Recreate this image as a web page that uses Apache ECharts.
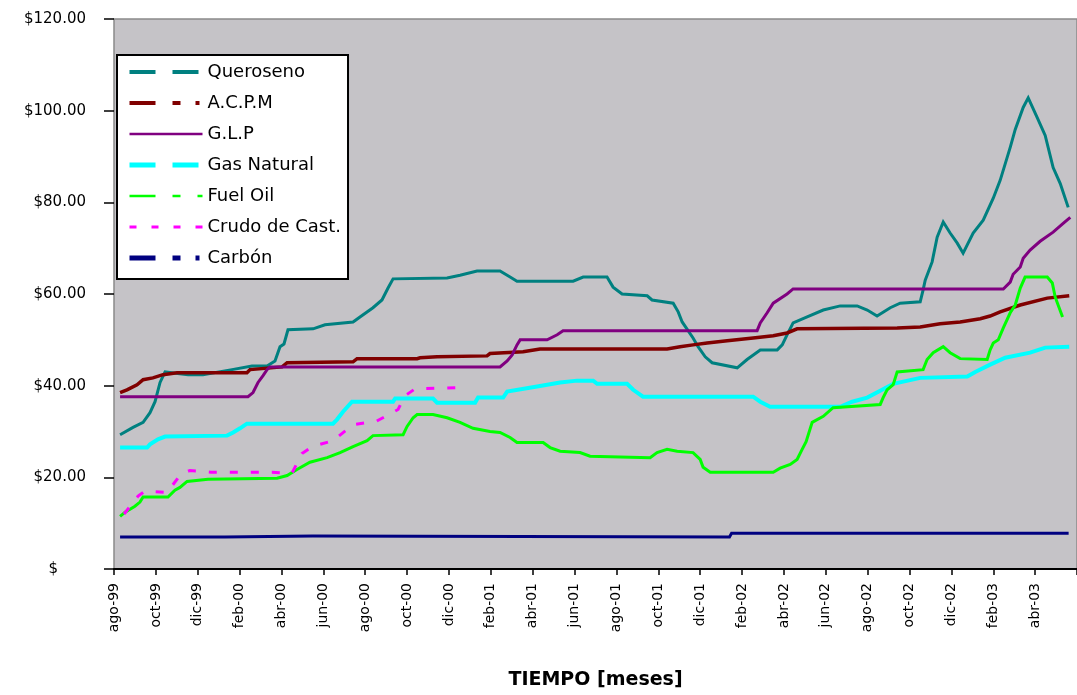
<!DOCTYPE html>
<html>
<head>
<meta charset="utf-8">
<script src="https://cdn.jsdelivr.net/npm/echarts@6/dist/echarts.min.js"></script>
<style>
  html, body { margin: 0; padding: 0; background: #fff; }
  #chart { width: 1077px; height: 695px; }
</style>
</head>
<body>
<div id="chart"></div>
<script>
// Precios de combustibles, pares [mes desde ago-99, precio US$]
const monthLabels = ['ago-99','oct-99','dic-99','feb-00','abr-00','jun-00','ago-00','oct-00','dic-00',
  'feb-01','abr-01','jun-01','ago-01','oct-01','dic-01','feb-02','abr-02','jun-02','ago-02','oct-02',
  'dic-02','feb-03','abr-03'];
const yTickLabels = ['$', '$20.00', '$40.00', '$60.00', '$80.00', '$100.00', '$120.00'];
const seriesNames = ['Queroseno', 'A.C.P.M', 'G.L.P', 'Gas Natural', 'Fuel Oil', 'Crudo de Cast.', 'Carbón'];

const queroseno = [[0.29,29.3],[0.91,30.9],[1.39,32.0],[1.72,34.1],[1.96,36.5],[2.2,40.7],[2.44,43.0],
  [3.54,42.4],[4.25,42.4],[5.64,43.5],[6.59,44.3],[7.31,44.3],[7.69,45.4],[7.93,48.5],[8.12,49.1],
  [8.31,52.2],[9.51,52.4],[10.08,53.3],[11.42,53.9],[11.75,55.0],[12.37,57.0],[12.8,58.7],[13.09,61.3],
  [13.33,63.3],[15.91,63.5],[16.53,64.1],[17.34,65.0],[18.44,65.0],[18.92,63.7],[19.25,62.8],[21.93,62.8],
  [22.41,63.7],[23.55,63.7],[23.84,61.5],[24.27,60.0],[25.47,59.6],[25.7,58.7],[26.71,58.0],[26.95,56.1],
  [27.14,53.9],[27.66,50.4],[27.9,48.5],[28.24,46.3],[28.57,45.0],[29.77,43.9],[30.24,45.7],[30.87,47.8],
  [31.68,47.8],[31.92,48.9],[32.15,51.1],[32.44,53.7],[33.11,55.0],[33.88,56.5],[34.69,57.4],[35.5,57.4],
  [35.98,56.5],[36.45,55.2],[37.08,57.0],[37.55,58.0],[38.51,58.3],[38.65,60.9],[38.75,63.0],[39.08,67.0],
  [39.32,72.4],[39.61,75.7],[39.94,73.3],[40.28,71.1],[40.56,68.9],[41.04,73.3],[41.52,76.1],[42.0,80.9],
  [42.33,84.8],[42.81,92.0],[43.05,95.9],[43.43,100.7],[43.67,102.8],[44.1,98.5],[44.48,94.6],[44.86,87.6],
  [45.2,84.1],[45.58,78.9]];

const acpm = [[0.29,38.5],[0.62,39.1],[1.1,40.2],[1.39,41.3],[1.86,41.7],[2.34,42.4],[3.01,42.8],[6.35,42.8],
  [6.5,43.5],[8.03,44.1],[8.27,45.0],[11.42,45.2],[11.61,45.9],[14.48,45.9],[14.62,46.1],[15.43,46.3],
  [17.82,46.5],[17.96,47.0],[19.54,47.4],[20.35,48.0],[26.42,48.0],[27.04,48.5],[27.66,48.9],[28.33,49.3],
  [29.29,49.8],[30.53,50.4],[31.49,50.9],[32.15,51.5],[32.63,52.4],[37.41,52.6],[38.51,52.8],[39.46,53.5],
  [40.42,53.9],[41.38,54.6],[41.85,55.2],[42.33,56.1],[43.29,57.6],[44.58,59.1],[45.63,59.6]];

const glp = [[0.29,37.6],[6.4,37.6],[6.64,38.5],[6.88,40.7],[7.12,42.2],[7.31,43.5],[7.45,44.1],[18.44,44.1],
  [18.78,45.4],[19.02,46.7],[19.25,48.9],[19.4,50.0],[20.69,50.0],[21.17,51.1],[21.45,52.0],[30.72,52.0],
  [30.87,53.7],[31.2,55.9],[31.49,58.0],[32.15,60.0],[32.44,61.1],[42.48,61.1],[42.81,62.6],[42.95,64.3],
  [43.29,65.9],[43.43,67.8],[43.76,69.6],[44.24,71.5],[44.86,73.5],[45.34,75.4],[45.68,76.7]];

const gasNatural = [[0.29,26.5],[1.58,26.5],[1.72,27.2],[2.1,28.3],[2.44,28.9],[5.4,29.1],[5.69,29.8],
  [6.02,30.7],[6.35,31.7],[10.46,31.7],[10.65,32.6],[10.94,34.3],[11.37,36.5],[13.33,36.5],[13.43,37.2],
  [15.24,37.2],[15.43,36.3],[17.25,36.3],[17.39,37.4],[18.59,37.4],[18.78,38.7],[20.21,39.8],[21.31,40.7],
  [22.12,41.1],[22.89,41.1],[23.08,40.4],[24.51,40.4],[24.8,39.1],[25.27,37.6],[30.53,37.6],[30.87,36.5],
  [31.34,35.4],[34.69,35.4],[35.26,36.5],[35.98,37.4],[36.6,38.9],[37.22,40.4],[38.51,41.7],[40.76,42.0],
  [41.14,43.0],[41.85,44.6],[42.57,46.1],[43.76,47.2],[44.48,48.3],[45.63,48.5]];

const fuelOil = [[0.29,11.5],[0.53,12.4],[1.0,13.7],[1.24,14.6],[1.39,15.7],[2.58,15.7],[2.91,17.2],
  [3.15,17.8],[3.49,19.1],[4.49,19.6],[7.79,19.8],[8.27,20.4],[8.74,21.7],[9.36,23.3],[10.18,24.3],
  [10.8,25.4],[11.42,26.7],[12.09,28.0],[12.37,29.1],[13.81,29.3],[14.0,31.1],[14.29,33.0],[14.48,33.7],
  [15.24,33.7],[15.91,33.0],[16.53,32.0],[17.15,30.7],[17.96,30.0],[18.44,29.8],[18.92,28.7],[19.25,27.6],
  [20.5,27.6],[20.83,26.5],[21.31,25.7],[22.26,25.4],[22.74,24.6],[25.61,24.3],[25.94,25.4],[26.42,26.1],
  [26.9,25.7],[27.66,25.4],[28.0,23.9],[28.14,22.2],[28.48,21.1],[31.49,21.1],[31.82,22.0],[32.3,22.8],
  [32.63,23.9],[32.87,26.1],[33.06,27.8],[33.35,32.0],[33.88,33.3],[34.35,35.2],[36.6,35.9],[36.74,37.4],
  [36.93,39.1],[37.22,40.2],[37.41,43.0],[38.65,43.5],[38.84,45.7],[39.13,47.2],[39.61,48.5],[39.94,47.2],
  [40.42,45.9],[41.71,45.7],[41.85,47.8],[42.0,49.3],[42.24,50.0],[42.48,52.6],[42.81,55.9],[43.05,57.6],
  [43.29,61.3],[43.52,63.7],[44.58,63.7],[44.82,62.4],[44.96,59.3],[45.31,55.0]];

const crudoCastilla = [[0.48,12.0],[1.15,15.9],[1.48,17.0],[2.53,16.7],[3.2,20.7],[3.63,21.5],[4.63,21.1],
  [7.55,21.1],[8.5,20.9],[8.98,25.2],[9.46,26.7],[10.46,28.0],[11.42,31.5],[12.52,32.2],[13.57,34.8],
  [13.9,37.8],[14.38,39.3],[16.53,39.6]];

const carbon = [[0.29,7.0],[5.3,7.0],[5.35,7.2],[9.5,7.2],[9.55,7.0],[29.4,7.0],[29.5,7.8],[45.6,7.8]];

const seriesData = [queroseno, acpm, glp, gasNatural, fuelOil, crudoCastilla, carbon];
const colors = ['#008080', '#800000', '#800080', '#00ffff', '#00ff00', '#ff00ff', '#000080'];
const plotWidths = [3, 3.5, 3, 4, 3, 3, 3];
const plotDash = ['solid', 'solid', 'solid', 'solid', 'solid', [8, 13], 'solid'];
const legendDash = [[26, 17], [26, 17, 8, 15, 4, 10], 'solid', [26, 17], [26, 17, 8, 17], [7, 15], [26, 17, 8, 15, 4, 10]];
const legendWidths = [4, 4, 2.5, 5, 2.5, 3, 5];

const font = 'DejaVu Sans';
const chart = echarts.init(document.getElementById('chart'));

chart.setOption({
  animation: false,
  backgroundColor: '#ffffff',
  grid: {
    left: 114, right: 0, top: 19, bottom: 123,
    show: true, backgroundColor: '#c5c3c7', borderColor: '#8a8a8a', borderWidth: 1.5
  },
  legend: {
    orient: 'vertical',
    left: 117, top: 55,
    padding: [8, 7, 12, 10],
    itemWidth: 73, itemHeight: 14, itemGap: 13,
    backgroundColor: '#ffffff', borderColor: '#000000', borderWidth: 2,
    textStyle: { fontFamily: font, fontSize: 18, color: '#000' },
    itemStyle: { opacity: 0 },
    data: seriesNames.map((n, i) => ({
      name: n,
      itemStyle: { opacity: 0 },
      lineStyle: { type: legendDash[i], width: legendWidths[i], color: colors[i], opacity: 1 }
    }))
  },
  xAxis: {
    type: 'value', min: 0, max: 46, interval: 2,
    name: 'TIEMPO [meses]', nameLocation: 'middle', nameGap: 102,
    nameTextStyle: { fontFamily: font, fontSize: 19, fontWeight: 'bold', color: '#000' },
    axisLine: { show: true, lineStyle: { color: '#000', width: 2 } },
    axisTick: { show: true, length: 6, lineStyle: { color: '#000', width: 1.5 } },
    axisLabel: {
      rotate: 90, margin: 14, fontFamily: font, fontSize: 14, color: '#000',
      formatter: v => monthLabels[Math.round(v / 2)] || ''
    },
    splitLine: { show: false }
  },
  yAxis: {
    type: 'value', min: 0, max: 120, interval: 20,
    axisLine: { show: false },
    axisTick: { show: true, length: 10, lineStyle: { color: '#000', width: 1.5 } },
    axisLabel: {
      margin: 28, fontFamily: font, fontSize: 15, color: '#000',
      formatter: v => {
        const t = yTickLabels[Math.round(v / 20)];
        return v === 0 ? '{z|' + t + '}' : t;
      },
      rich: { z: { fontFamily: font, fontSize: 15, color: '#000', padding: [0, 28, 0, 0] } }
    },
    splitLine: { show: false }
  },
  series: seriesNames.map((n, i) => ({
    name: n,
    type: 'line',
    data: seriesData[i],
    symbol: 'none',
    color: colors[i],
    lineStyle: { color: colors[i], width: plotWidths[i], type: plotDash[i], cap: 'butt', join: 'miter' }
  }))
});
</script>
</body>
</html>
